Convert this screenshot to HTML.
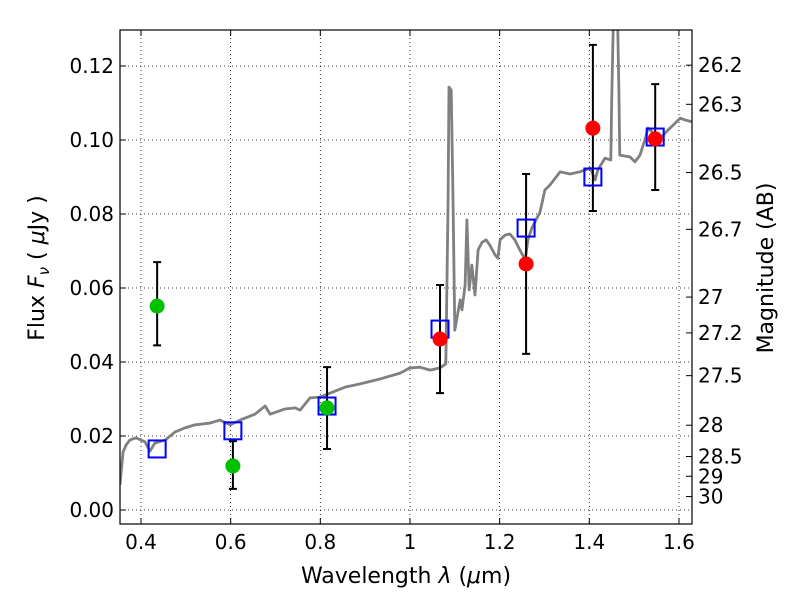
<!DOCTYPE html>
<html><head><meta charset="utf-8"><style>
body{margin:0;background:#fff}
svg text{font-family:"DejaVu Sans","Liberation Sans",sans-serif;fill:#000}
</style></head><body>
<svg id="chart" width="800" height="600" xmlns="http://www.w3.org/2000/svg">
<rect width="800" height="600" fill="#fff"/>
<g id="grid"></g>
<g id="plot"></g>
<g id="axes"></g>
</svg>
<script>
const specLam=[0.353,0.360,0.367,0.375,0.389,0.409,0.420,0.431,0.454,0.476,0.498,0.520,0.554,0.576,0.599,0.621,0.654,0.677,0.688,0.721,0.744,0.755,0.777,0.799,0.822,0.855,0.889,0.933,0.978,1.000,1.022,1.045,1.067,1.080,1.085,1.087,1.092,1.096,1.100,1.112,1.116,1.123,1.127,1.132,1.138,1.145,1.152,1.161,1.170,1.178,1.190,1.196,1.201,1.212,1.223,1.234,1.245,1.257,1.263,1.272,1.290,1.301,1.312,1.335,1.357,1.379,1.402,1.413,1.419,1.435,1.448,1.450,1.455,1.462,1.466,1.468,1.491,1.502,1.513,1.524,1.531,1.547,1.558,1.580,1.603,1.614,1.630];
const specFlux=[0.0068,0.0157,0.0176,0.0189,0.0195,0.0184,0.0159,0.0181,0.0189,0.0211,0.0222,0.0230,0.0235,0.0243,0.0230,0.0243,0.0259,0.0281,0.0259,0.0273,0.0276,0.0270,0.0303,0.0305,0.0316,0.0332,0.0341,0.0354,0.0370,0.0384,0.0386,0.0378,0.0384,0.0395,0.0838,0.1143,0.1135,0.0838,0.0486,0.0568,0.0541,0.0608,0.0784,0.0595,0.0662,0.0581,0.0703,0.0724,0.0730,0.0716,0.0689,0.0681,0.0730,0.0743,0.0746,0.0730,0.0703,0.0676,0.0730,0.0762,0.0805,0.0865,0.0878,0.0914,0.0908,0.0914,0.0924,0.0892,0.0919,0.0951,0.0946,0.1108,0.14,0.14,0.1135,0.0959,0.0954,0.0941,0.0959,0.1000,0.1032,0.1014,0.1005,0.1032,0.1059,0.1054,0.1049];
const greenLam=[0.436,0.605,0.815];
const greenFlux=[0.0551,0.0119,0.0276];
const greenHi=[0.0670,0.0186,0.0386];
const greenLo=[0.0445,0.0057,0.0165];
const redLam=[1.067,1.259,1.408,1.547];
const redFlux=[0.0462,0.0665,0.1032,0.1003];
const redHi=[0.0608,0.0908,0.1257,0.1151];
const redLo=[0.0316,0.0422,0.0808,0.0865];
const modelLam=[0.436,0.605,0.815,1.067,1.259,1.408,1.547];
const modelFlux=[0.0165,0.0214,0.0281,0.0489,0.0762,0.0900,0.1008];
const xTicks=[0.4,0.6,0.8,1.0,1.2,1.4,1.6];
const xTickLabels=["0.4","0.6","0.8","1","1.2","1.4","1.6"];
const yTicks=[0,0.02,0.04,0.06,0.08,0.10,0.12];
const yTickLabels=["0.00","0.02","0.04","0.06","0.08","0.10","0.12"];
const magTicks=[26.2,26.3,26.5,26.7,27,27.2,27.5,28,28.5,29,30];

const L=120,R=692,T=30,B=524;
const x=v=>141+(v-0.4)*448.3;
const y=v=>510-v*3700;
const NS="http://www.w3.org/2000/svg";
function mk(parent,tag,attrs,text){const e=document.createElementNS(NS,tag);for(const k in attrs)e.setAttribute(k,attrs[k]);if(text!==undefined)e.textContent=text;document.getElementById(parent).appendChild(e);return e;}

xTicks.forEach((t,i)=>{
 const g=mk('grid','line',{x1:x(t),x2:x(t),y1:T,y2:B,stroke:'#000','stroke-width':0.8,'stroke-dasharray':'1,3'});
 
 
});
yTicks.forEach((t,i)=>{
 const g=mk('grid','line',{x1:L,x2:R,y1:y(t),y2:y(t),stroke:'#000','stroke-width':0.8,'stroke-dasharray':'1,3'});
 
 
});

const cp=mk('plot','clipPath',{id:'clip'});
const cr=document.createElementNS(NS,'rect');
cr.setAttribute('x',L);cr.setAttribute('y',T);cr.setAttribute('width',R-L);cr.setAttribute('height',B-T);
cp.appendChild(cr);

const sp=mk('plot','polyline',{points:specLam.map((l,i)=>x(l)+','+y(specFlux[i])).join(' '),fill:'none',stroke:'#808080','stroke-width':2.8,'clip-path':'url(#clip)','stroke-linejoin':'round'});



function errbars(lam,hi,lo,name){
 lam.forEach((l,i)=>{
  const e=mk('plot','path',{d:`M${x(l)},${y(hi[i])}V${y(lo[i])}M${x(l)-4},${y(hi[i])}h8M${x(l)-4},${y(lo[i])}h8`,stroke:'#000','stroke-width':2,fill:'none'});
  
  
 });
}
errbars(greenLam,greenHi,greenLo,'green-errorbar');
errbars(redLam,redHi,redLo,'red-errorbar');

modelLam.forEach((l,i)=>{
 const s=mk('plot','rect',{x:x(l)-8.5,y:y(modelFlux[i])-8.5,width:17,height:17,fill:'none',stroke:'#0000ff','stroke-width':2});
 
 
});
greenLam.forEach((l,i)=>{
 const c=mk('plot','circle',{cx:x(l),cy:y(greenFlux[i]),r:7.5,fill:'#00c000'});
 
 
});
redLam.forEach((l,i)=>{
 const c=mk('plot','circle',{cx:x(l),cy:y(redFlux[i]),r:7.5,fill:'#ff0000'});
 
 
});

const fr=mk('axes','rect',{x:L,y:T,width:R-L,height:B-T,fill:'none',stroke:'#000','stroke-width':1.2});


xTicks.forEach((t,i)=>{
 mk('axes','path',{d:`M${x(t)},${B}v-6M${x(t)},${T}v6`,stroke:'#000'});
 const tx=mk('axes','text',{x:x(t),y:B+25,'text-anchor':'middle','font-size':20},xTickLabels[i]);
 
 
});
yTicks.forEach((t,i)=>{
 mk('axes','path',{d:`M${L},${y(t)}h6`,stroke:'#000'});
 const tx=mk('axes','text',{x:L-6,y:y(t)+7,'text-anchor':'end','font-size':20},yTickLabels[i]);
 
 
});
magTicks.forEach(m=>{
 const f=Math.pow(10,(23.9-m)/2.5);
 mk('axes','path',{d:`M${R},${y(f)}h-6`,stroke:'#000'});
 const tx=mk('axes','text',{x:R+6,y:y(f)+7,'font-size':20},String(m));
 
 
});
</script>
<svg style="position:absolute;left:0;top:0" width="800" height="600">
<text x="406" y="583" text-anchor="middle" font-size="22">Wavelength  <tspan font-style="italic">λ</tspan> (<tspan font-style="italic">μ</tspan>m)</text>
<text transform="translate(44,268) rotate(-90)" text-anchor="middle" font-size="22">Flux  <tspan font-style="italic">F</tspan><tspan font-style="italic" font-size="15" dy="5">ν</tspan><tspan dy="-5">  (  </tspan><tspan font-style="italic">μ</tspan>Jy )</text>
<text transform="translate(773,268) rotate(-90)" text-anchor="middle" font-size="22">Magnitude (AB)</text>
</svg>
</body></html>
